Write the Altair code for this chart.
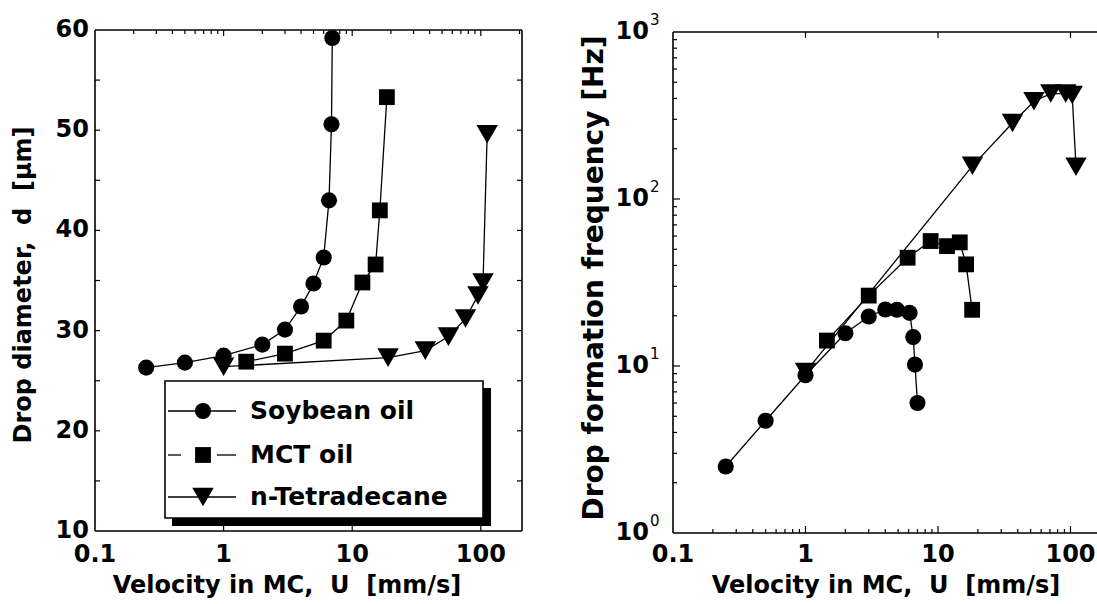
import altair as alt
import pandas as pd

# ---------------- data ----------------
series_names = ["Soybean oil", "MCT oil", "n-Tetradecane"]

# left panel: drop diameter d [um] vs velocity U [mm/s]
soy_u_left = [0.25, 0.5, 1.0, 2.0, 3.0, 4.0, 5.0, 6.0, 6.6, 6.9, 7.0]
soy_d = [26.3, 26.8, 27.5, 28.6, 30.1, 32.4, 34.7, 37.3, 43.0, 50.6, 59.2]
mct_u_left = [1.5, 3.0, 6.0, 9.0, 12.0, 15.2, 16.4, 18.6]
mct_d = [26.9, 27.7, 29.0, 31.0, 34.8, 36.6, 42.0, 53.3]
tet_u_left = [1.0, 19.0, 37.0, 56.0, 76.0, 95.0, 104.0, 112.0]
tet_d = [26.4, 27.3, 28.0, 29.4, 31.2, 33.5, 34.8, 49.6]

# right panel: drop formation frequency f [Hz] vs velocity U [mm/s]
soy_u_right = [0.25, 0.5, 1.0, 2.0, 3.0, 4.0, 4.9, 6.1, 6.5, 6.7, 7.0]
soy_f = [2.5, 4.7, 8.8, 15.7, 19.8, 21.8, 21.7, 20.8, 14.9, 10.2, 6.0]
mct_u_right = [1.45, 3.0, 5.9, 8.8, 11.7, 14.6, 16.3, 18.1]
mct_f = [14.2, 26.4, 44.5, 56.0, 52.2, 55.0, 40.6, 21.7]
tet_u_right = [1.0, 18.2, 36.5, 53.0, 71.0, 92.0, 103.0, 110.0]
tet_f = [9.2, 158.0, 285.0, 385.0, 428.0, 428.0, 420.0, 156.0]

# tick values / labels
x_major = [1, 10, 100]
x_minor = [0.2, 0.3, 0.4, 0.5, 0.6, 0.7, 0.8, 0.9,
           2, 3, 4, 5, 6, 7, 8, 9,
           20, 30, 40, 50, 60, 70, 80, 90, 200]
x_label_vals = [0.1, 1, 10, 100]
x_label_txt = ["0.1", "1", "10", "100"]
ly_ticks = [15, 20, 25, 30, 35, 40, 45, 50, 55]
ly_label_vals = [10, 20, 30, 40, 50, 60]
ry_major = [10, 100]
ry_minor = [2, 3, 4, 5, 6, 7, 8, 9,
            20, 30, 40, 50, 60, 70, 80, 90,
            200, 300, 400, 500, 600, 700, 800, 900]
ry_label_vals = [1, 10, 100, 1000]
ry_label_exp = ["0", "1", "2", "3"]

x_title = "Velocity in MC,\u00a0\u00a0U\u00a0\u00a0[mm/s]"
ly_title = "Drop diameter,\u00a0\u00a0d\u00a0\u00a0[\u03bcm]"
ry_title = "Drop formation frequency [Hz]"

# ---------------- layout ----------------
FONT = "DejaVu Sans"
L_X0, L_X1, L_Y0, L_Y1 = 95, 522, 30, 531
R_X0, R_X1, R_Y0, R_Y1 = 673, 1097, 32, 533

LX = alt.Scale(type="log", domain=[0.1, 209], range=[L_X0, L_X1])
LY = alt.Scale(type="linear", domain=[10, 60], range=[L_Y1, L_Y0])
RX = alt.Scale(type="log", domain=[0.1, 158.5], range=[R_X0, R_X1])
RY = alt.Scale(type="log", domain=[1, 1000], range=[R_Y1, R_Y0])

ONE = pd.DataFrame({"k": [0]})
layers = []


def vrule(x, y, y2, w=1.6):
    return alt.Chart(ONE).mark_rule(color="black", strokeWidth=w).encode(
        x=alt.value(x), y=alt.value(y), y2=alt.value(y2))


def hrule(x, x2, y, w=1.6):
    return alt.Chart(ONE).mark_rule(color="black", strokeWidth=w).encode(
        x=alt.value(x), x2=alt.value(x2), y=alt.value(y))


def xticks(vals, xs, y, y2):
    return alt.Chart(pd.DataFrame({"t": vals})).mark_rule(color="black", strokeWidth=1.2).encode(
        x=alt.X("t:Q", scale=xs, axis=None), y=alt.value(y), y2=alt.value(y2))


def yticks(vals, ys, x, x2):
    return alt.Chart(pd.DataFrame({"t": vals})).mark_rule(color="black", strokeWidth=1.2).encode(
        y=alt.Y("t:Q", scale=ys, axis=None), x=alt.value(x), x2=alt.value(x2))


def series(u, v, xs, ys, shape, size):
    df = pd.DataFrame({"u": u, "v": v, "i": list(range(len(u)))})
    enc = dict(x=alt.X("u:Q", scale=xs, axis=None), y=alt.Y("v:Q", scale=ys, axis=None))
    line = alt.Chart(df).mark_line(color="black", strokeWidth=1.3).encode(order="i:Q", **enc)
    pts = alt.Chart(df).mark_point(shape=shape, size=size, filled=True, color="black",
                                   opacity=1).encode(**enc)
    return [line, pts]


SHAPES = ["circle", "square", "triangle-down"]
SIZES = [260, 250, 460]

# ---------------- legend (left panel) ----------------
layers.append(alt.Chart(ONE).mark_rect(color="black").encode(
    x=alt.value(172), x2=alt.value(491), y=alt.value(388), y2=alt.value(526)))
layers.append(alt.Chart(ONE).mark_rect(fill="white", stroke="black", strokeWidth=1.6).encode(
    x=alt.value(165), x2=alt.value(483), y=alt.value(381), y2=alt.value(518)))
leg_y = [411, 455, 497]
layers.append(hrule(168, 236, leg_y[0], 1.3))
layers.append(hrule(168, 181, leg_y[1], 1.3))
layers.append(hrule(217, 236, leg_y[1], 1.3))
layers.append(hrule(168, 236, leg_y[2], 1.3))
for k in range(3):
    layers.append(alt.Chart(ONE).mark_point(shape=SHAPES[k], size=SIZES[k], filled=True,
                                            color="black", opacity=1).encode(
        x=alt.value(203), y=alt.value(leg_y[k])))
layers.append(alt.Chart(pd.DataFrame({"name": series_names, "py": leg_y})).mark_text(
    font=FONT, fontWeight="bold", fontSize=25, align="left", baseline="middle", color="black").encode(
    x=alt.value(250), y=alt.Y("py:Q", scale=None, axis=None), text="name:N"))

# ---------------- data series ----------------
layers += series(soy_u_left, soy_d, LX, LY, SHAPES[0], SIZES[0])
layers += series(mct_u_left, mct_d, LX, LY, SHAPES[1], SIZES[1])
layers += series(tet_u_left, tet_d, LX, LY, SHAPES[2], SIZES[2])
layers += series(soy_u_right, soy_f, RX, RY, SHAPES[0], SIZES[0])
layers += series(mct_u_right, mct_f, RX, RY, SHAPES[1], SIZES[1])
layers += series(tet_u_right, tet_f, RX, RY, SHAPES[2], SIZES[2])

# ---------------- left frame + ticks ----------------
layers += [vrule(L_X0, L_Y0, L_Y1), vrule(L_X1, L_Y0, L_Y1),
           hrule(L_X0, L_X1, L_Y0), hrule(L_X0, L_X1, L_Y1)]
layers.append(xticks(x_major, LX, L_Y1, L_Y1 - 6))
layers.append(xticks(x_major, LX, L_Y0, L_Y0 + 6))
layers.append(xticks(x_minor, LX, L_Y0, L_Y0 + 4))
layers.append(yticks(ly_ticks, LY, L_X0, L_X0 + 5))
layers.append(yticks(ly_ticks, LY, L_X1, L_X1 - 5))

# ---------------- right frame + ticks ----------------
layers += [vrule(R_X0, R_Y0, R_Y1), hrule(R_X0, R_X1, R_Y0), hrule(R_X0, R_X1, R_Y1)]
layers.append(xticks(x_major, RX, R_Y1, R_Y1 - 7))
layers.append(xticks(x_minor, RX, R_Y1, R_Y1 - 4))
layers.append(xticks(x_major, RX, R_Y0, R_Y0 + 6))
layers.append(yticks(ry_major, RY, R_X0, R_X0 + 7))
layers.append(yticks(ry_minor, RY, R_X0, R_X0 + 4))

# ---------------- tick labels ----------------
TXT = dict(font=FONT, fontWeight="bold", color="black")
xl = pd.DataFrame({"v": x_label_vals, "t": x_label_txt})
layers.append(alt.Chart(xl).mark_text(fontSize=24, align="center", baseline="middle", **TXT).encode(
    x=alt.X("v:Q", scale=LX, axis=None), y=alt.value(555), text="t:N"))
layers.append(alt.Chart(xl).mark_text(fontSize=24, align="center", baseline="middle", **TXT).encode(
    x=alt.X("v:Q", scale=RX, axis=None), y=alt.value(555), text="t:N"))
ly = pd.DataFrame({"v": ly_label_vals, "t": [str(v) for v in ly_label_vals]})
layers.append(alt.Chart(ly).mark_text(fontSize=24, align="right", baseline="middle", **TXT).encode(
    y=alt.Y("v:Q", scale=LY, axis=None), x=alt.value(89), text="t:N"))
ry = pd.DataFrame({"v": ry_label_vals, "e": ry_label_exp, "b": ["10"] * 4})
layers.append(alt.Chart(ry).mark_text(fontSize=24, align="right", baseline="middle", **TXT).encode(
    y=alt.Y("v:Q", scale=RY, axis=None), x=alt.value(649), text="b:N"))
layers.append(alt.Chart(ry).mark_text(fontSize=15, align="left", baseline="middle", dy=-12,
                                      font=FONT, color="black").encode(
    y=alt.Y("v:Q", scale=RY, axis=None), x=alt.value(650), text="e:N"))

# ---------------- axis titles ----------------
def title(txt, x, y, size, angle=0):
    kw = dict(angle=angle) if angle else {}
    return alt.Chart(pd.DataFrame({"t": [txt]})).mark_text(
        fontSize=size, align="center", baseline="middle", **TXT, **kw).encode(
        x=alt.value(x), y=alt.value(y), text="t:N")


layers.append(title(x_title, 287, 586, 24))
layers.append(title(x_title, 886, 586, 24))
layers.append(title(ly_title, 24, 285, 24, 270))
layers.append(title(ry_title, 595, 278, 28, 270))

chart = alt.layer(*layers).resolve_scale(x="independent", y="independent").properties(
    width=1097, height=604, padding=0, autosize="none", background="white"
).configure_view(stroke=None)

chart.save("out.html", embed_options={"renderer": "svg", "actions": False})
